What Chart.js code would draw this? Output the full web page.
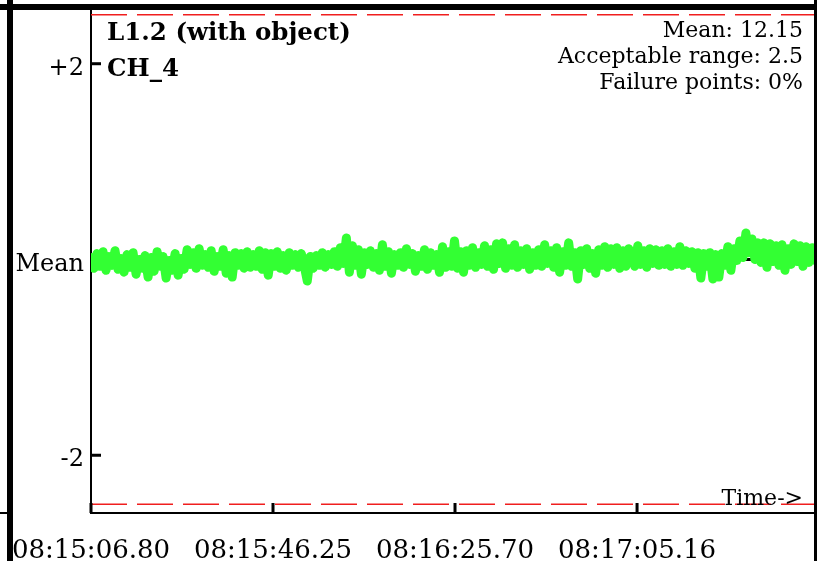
<!DOCTYPE html>
<html>
<head>
<meta charset="utf-8">
<script src="https://cdn.jsdelivr.net/npm/chart.js@4.4.1/dist/chart.umd.min.js"></script>
<style>
  html, body { margin: 0; padding: 0; background: #fff; }
  #wrap { width: 817px; height: 561px; }
</style>
</head>
<body>
<div id="wrap"><canvas id="ch4-chart" width="817" height="561"></canvas></div>
<script>
// deviation from the mean (left to right)
var ch4Values = [
  0.02,-0.09,0.06,-0.07,0.08,-0.11,0.03,-0.06,0.09,-0.10,0.01,-0.13,0.05,-0.08,0.07,-0.15,0.00,-0.09,0.04,-0.18,
  0.02,-0.12,0.08,-0.07,0.03,-0.19,-0.01,-0.11,0.06,-0.16,0.01,-0.10,0.10,-0.05,0.07,-0.09,0.11,-0.06,0.05,-0.08,
  0.09,-0.12,0.03,-0.07,0.10,-0.14,0.04,-0.18,0.07,-0.06,0.06,-0.09,0.08,-0.08,0.05,-0.07,0.09,-0.10,0.07,-0.16,
  0.06,-0.07,0.08,-0.09,0.04,-0.11,0.07,-0.06,0.05,-0.08,0.06,-0.07,-0.22,0.03,-0.09,0.04,-0.06,0.07,-0.08,0.05,
  -0.05,0.08,-0.07,0.12,-0.04,0.22,-0.13,0.14,-0.06,0.10,-0.15,0.07,-0.05,0.09,-0.08,0.06,-0.11,0.15,-0.07,0.08,
  -0.14,0.05,-0.06,0.07,-0.08,0.11,-0.05,0.06,-0.12,0.04,-0.07,0.10,-0.10,0.07,-0.06,0.05,-0.13,0.13,-0.08,0.08,
  -0.07,0.19,-0.09,0.08,-0.13,0.09,-0.06,0.12,-0.08,0.07,-0.05,0.14,-0.07,0.10,-0.10,0.16,-0.04,0.17,-0.09,0.11,
  -0.06,0.15,-0.08,0.09,-0.05,0.11,-0.10,0.07,-0.06,0.10,-0.07,0.15,-0.04,0.09,-0.08,0.12,-0.13,0.08,-0.06,0.17,
  -0.07,0.07,-0.20,0.09,-0.05,0.11,-0.09,0.06,-0.14,0.10,-0.06,0.13,-0.08,0.11,-0.05,0.12,-0.09,0.09,-0.07,0.11,
  0.03,-0.07,0.14,-0.05,0.09,-0.08,0.11,-0.04,0.10,-0.06,0.09,-0.05,0.11,-0.07,0.08,-0.05,0.13,-0.06,0.09,-0.04,
  0.08,-0.09,0.07,-0.19,0.06,-0.07,0.07,-0.20,0.05,-0.18,0.06,-0.06,0.13,-0.11,0.11,-0.01,0.19,0.02,0.27,0.07,
  0.21,0.00,0.17,-0.03,0.17,-0.08,0.16,-0.02,0.14,-0.06,0.15,-0.11,0.11,-0.05,0.16,-0.02,0.14,-0.07,0.13,-0.03,
  0.12,-0.01
];

// seconds since 08:15:06.80
var timeSpan = 156.93;
var xTickValues = [0, 39.45, 78.90, 118.36];
var xTickLabels = ['08:15:06.80', '08:15:46.25', '08:16:25.70', '08:17:05.16'];

var yTickValues = [-2, 0, 2];
var yTickLabels = ['-2', 'Mean', '+2'];
var acceptableRange = 2.5;

var titleLines = ['L1.2 (with object)', 'CH_4'];
var infoLines = ['Mean: 12.15', 'Acceptable range: 2.5', 'Failure points: 0%'];

var points = ch4Values.map(function (v, i) {
  return { x: i * timeSpan / (ch4Values.length - 1), y: v };
});

function flat(v) {
  return [{ x: 0, y: v }, { x: timeSpan, y: v }];
}

function noPad(scale) {
  scale.paddingTop = 0;
  scale.paddingBottom = 0;
  scale.paddingLeft = 0;
  scale.paddingRight = 0;
}

var framePlugin = {
  id: 'frame',
  afterDraw: function (chart) {
    var ctx = chart.ctx;
    var a = chart.chartArea;
    var xs = chart.scales.x, ys = chart.scales.y;
    ctx.save();
    ctx.fillStyle = '#000';
    // ticks pointing into the plot
    yTickValues.forEach(function (v) {
      if (v === 0) return;
      var py = ys.getPixelForValue(v);
      ctx.fillRect(a.left, py - 1.5, 10, 3);
    });
    xTickValues.forEach(function (v) {
      var px = xs.getPixelForValue(v);
      ctx.fillRect(px - 1.5, a.bottom - 10, 3, 10);
    });
    // borders of the neighbouring panels
    ctx.fillRect(0, 4, chart.width, 6);
    ctx.fillRect(7, 0, 6, chart.height);
    ctx.fillRect(chart.width - 3, 0, 3, chart.height);
    ctx.fillRect(0, a.bottom - 1, 7, 2);

    ctx.textBaseline = 'alphabetic';
    ctx.font = 'bold 24.5px "DejaVu Serif"';
    ctx.textAlign = 'left';
    ctx.fillText(titleLines[0], 107, 40);
    ctx.fillText(titleLines[1], 107, 76);

    ctx.font = '22px "DejaVu Serif"';
    ctx.textAlign = 'right';
    infoLines.forEach(function (t, i) {
      ctx.fillText(t, 803, 37 + i * 26);
    });
    ctx.fillText('Time->', 803, 505);
    ctx.restore();
  }
};

var ctx = document.getElementById('ch4-chart');

var config = {
  type: 'line',
  data: {
    datasets: [{
      label: 'CH_4',
      data: points,
      borderColor: 'rgb(51, 255, 51)',
      borderWidth: 9,
      borderJoinStyle: 'round',
      borderCapStyle: 'round',
      pointRadius: 0,
      tension: 0
    }, {
      label: 'Mean',
      data: flat(0),
      borderColor: '#000',
      borderWidth: 3,
      pointRadius: 0
    }, {
      label: 'upper',
      data: flat(acceptableRange),
      borderColor: 'rgb(240, 30, 30)',
      borderWidth: 1.5,
      borderDash: [36, 10],
      pointRadius: 0
    }, {
      label: 'lower',
      data: flat(-acceptableRange),
      borderColor: 'rgb(240, 30, 30)',
      borderWidth: 1.5,
      borderDash: [36, 10],
      pointRadius: 0
    }]
  },
  options: {
    responsive: false,
    animation: false,
    layout: { padding: { top: 5, right: 2, left: 0, bottom: 0 } },
    plugins: {
      legend: { display: false },
      tooltip: { enabled: false }
    },
    scales: {
      x: {
        type: 'linear',
        min: 0,
        max: timeSpan,
        grid: { display: false, drawTicks: false },
        border: { display: true, color: '#000', width: 2 },
        afterBuildTicks: function (scale) {
          scale.ticks = xTickValues.map(function (v) { return { value: v }; });
        },
        afterFit: function (scale) { scale.height = 48; noPad(scale); },
        ticks: {
          autoSkip: false,
          maxRotation: 0,
          padding: 23,
          color: '#000',
          font: { family: 'DejaVu Serif', size: 26 },
          callback: function (value, index) { return xTickLabels[index]; }
        }
      },
      y: {
        min: -2.59,
        max: 2.6,
        grid: { display: false, drawTicks: false },
        border: { display: true, color: '#000', width: 2 },
        afterBuildTicks: function (scale) {
          scale.ticks = yTickValues.map(function (v) { return { value: v }; });
        },
        afterFit: function (scale) { scale.width = 91; noPad(scale); },
        ticks: {
          padding: 7,
          labelOffset: 5,
          color: '#000',
          font: { family: 'DejaVu Serif', size: 24 },
          callback: function (value, index) { return yTickLabels[index]; }
        }
      }
    }
  },
  plugins: [framePlugin]
};

new Chart(ctx, config);
</script>
</body>
</html>
